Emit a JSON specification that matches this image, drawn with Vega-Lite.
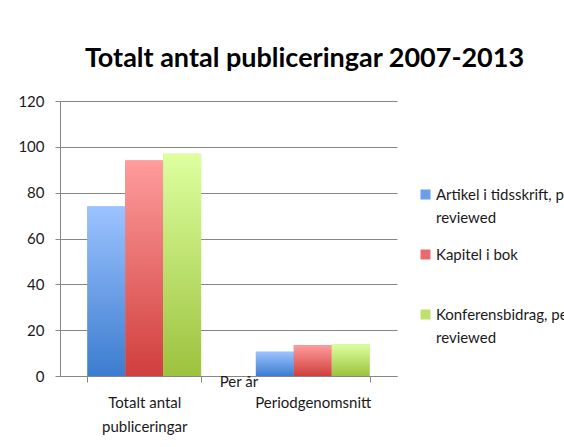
{
  "$schema": "https://vega.github.io/schema/vega-lite/v6.json",
  "width": 337,
  "height": 275,
  "autosize": {"type": "none"},
  "padding": {"left": 60, "top": 101, "right": 167, "bottom": 71},
  "background": "white",
  "config": {"view": {"stroke": null}, "font": "Lato", "style": {"guide-label": {"lineHeight": 23}}},
  "title": {
    "text": "Totalt antal publiceringar 2007-2013",
    "font": "Lato",
    "fontSize": 27,
    "fontWeight": "bold",
    "color": "#000000",
    "anchor": "middle",
    "dx": 76,
    "baseline": "alphabetic",
    "offset": 0
  },
  "data": {
    "values": [
      {"kategori": "Totalt antal publiceringar", "typ": "Artikel i tidsskrift, peer reviewed", "antal": 74},
      {"kategori": "Totalt antal publiceringar", "typ": "Kapitel i bok", "antal": 94},
      {"kategori": "Totalt antal publiceringar", "typ": "Konferensbidrag, peer reviewed", "antal": 97},
      {"kategori": "Periodgenomsnitt", "typ": "Artikel i tidsskrift, peer reviewed", "antal": 10.57},
      {"kategori": "Periodgenomsnitt", "typ": "Kapitel i bok", "antal": 13.43},
      {"kategori": "Periodgenomsnitt", "typ": "Konferensbidrag, peer reviewed", "antal": 13.86}
    ]
  },
  "encoding": {
    "x": {
      "field": "kategori",
      "type": "nominal",
      "sort": ["Totalt antal publiceringar", "Periodgenomsnitt"],
      "scale": {"paddingInner": 0.325, "paddingOuter": 0.1625},
      "axis": {
        "title": null,
        "labelAngle": 0,
        "labelFont": "Lato",
        "labelFontSize": 15,
        "labelColor": "#1A1A1A",
        "labelPadding": 13,
        "labelLineHeight": 24,
        "labelExpr": "datum.label == 'Totalt antal publiceringar' ? ['Totalt antal', 'publiceringar'] : datum.label",
        "domainColor": "#868686",
        "tickColor": "#868686",
        "tickBand": "extent",
        "tickSize": 6,
        "grid": false
      }
    },
    "xOffset": {
      "field": "typ",
      "type": "nominal",
      "scale": {"domain": ["Artikel i tidsskrift, peer reviewed", "Kapitel i bok", "Konferensbidrag, peer reviewed"], "paddingInner": 0, "paddingOuter": 0}
    },
    "y": {
      "field": "antal",
      "type": "quantitative",
      "scale": {"domain": [0, 120], "nice": false},
      "axis": {
        "title": null,
        "values": [0, 20, 40, 60, 80, 100, 120],
        "labelFont": "Lato",
        "labelFontSize": 15,
        "labelColor": "#1A1A1A",
        "labelPadding": 11,
        "tickSize": 5,
        "tickColor": "#868686",
        "domainColor": "#868686",
        "gridColor": "#868686",
        "gridWidth": 1
      }
    }
  },
  "layer": [
    {
      "mark": {"type": "bar"},
      "encoding": {
        "color": {
          "field": "typ",
          "type": "nominal",
          "scale": {
            "domain": ["Artikel i tidsskrift, peer reviewed", "Kapitel i bok", "Konferensbidrag, peer reviewed"],
            "range": ["#6A9FE8", "#E76C6C", "#BFE06E"]
          },
          "legend": {
            "title": null,
            "orient": "none",
            "legendX": 358,
            "legendY": 86,
            "symbolType": "square",
            "symbolSize": 100,
            "symbolStrokeWidth": 0,
            "labelFont": "Lato",
            "labelFontSize": 15,
            "labelColor": "#1A1A1A",
            "labelOffset": 3,
            "labelLimit": 400,
            "rowPadding": 21,
            "labelExpr": "datum.label == 'Kapitel i bok' ? ['Kapitel i bok', ' '] : [slice(datum.label, 0, indexof(datum.label, ' reviewed')), 'reviewed']"
          }
        }
      }
    },
    {
      "transform": [{"filter": "datum.typ == 'Artikel i tidsskrift, peer reviewed'"}],
      "mark": {"type": "bar", "color": {"gradient": "linear", "x1": 0, "y1": 0, "x2": 0, "y2": 1, "stops": [{"offset": 0, "color": "#9CC3FF"}, {"offset": 1, "color": "#3C7CCF"}]}}
    },
    {
      "transform": [{"filter": "datum.typ == 'Kapitel i bok'"}],
      "mark": {"type": "bar", "color": {"gradient": "linear", "x1": 0, "y1": 0, "x2": 0, "y2": 1, "stops": [{"offset": 0, "color": "#FF9C9C"}, {"offset": 1, "color": "#CF3F3E"}]}}
    },
    {
      "transform": [{"filter": "datum.typ == 'Konferensbidrag, peer reviewed'"}],
      "mark": {"type": "bar", "color": {"gradient": "linear", "x1": 0, "y1": 0, "x2": 0, "y2": 1, "stops": [{"offset": 0, "color": "#DEFF9F"}, {"offset": 1, "color": "#9CC23E"}]}}
    },
    {
      "data": {"values": [{"kategori": "Periodgenomsnitt", "antal": 0, "text": "Per år"}]},
      "mark": {"type": "text", "font": "Lato", "fontSize": 15, "color": "#1A1A1A", "align": "left", "baseline": "alphabetic", "dx": -93, "dy": 11},
      "encoding": {
        "xOffset": null,
        "text": {"field": "text"}
      }
    }
  ]
}
